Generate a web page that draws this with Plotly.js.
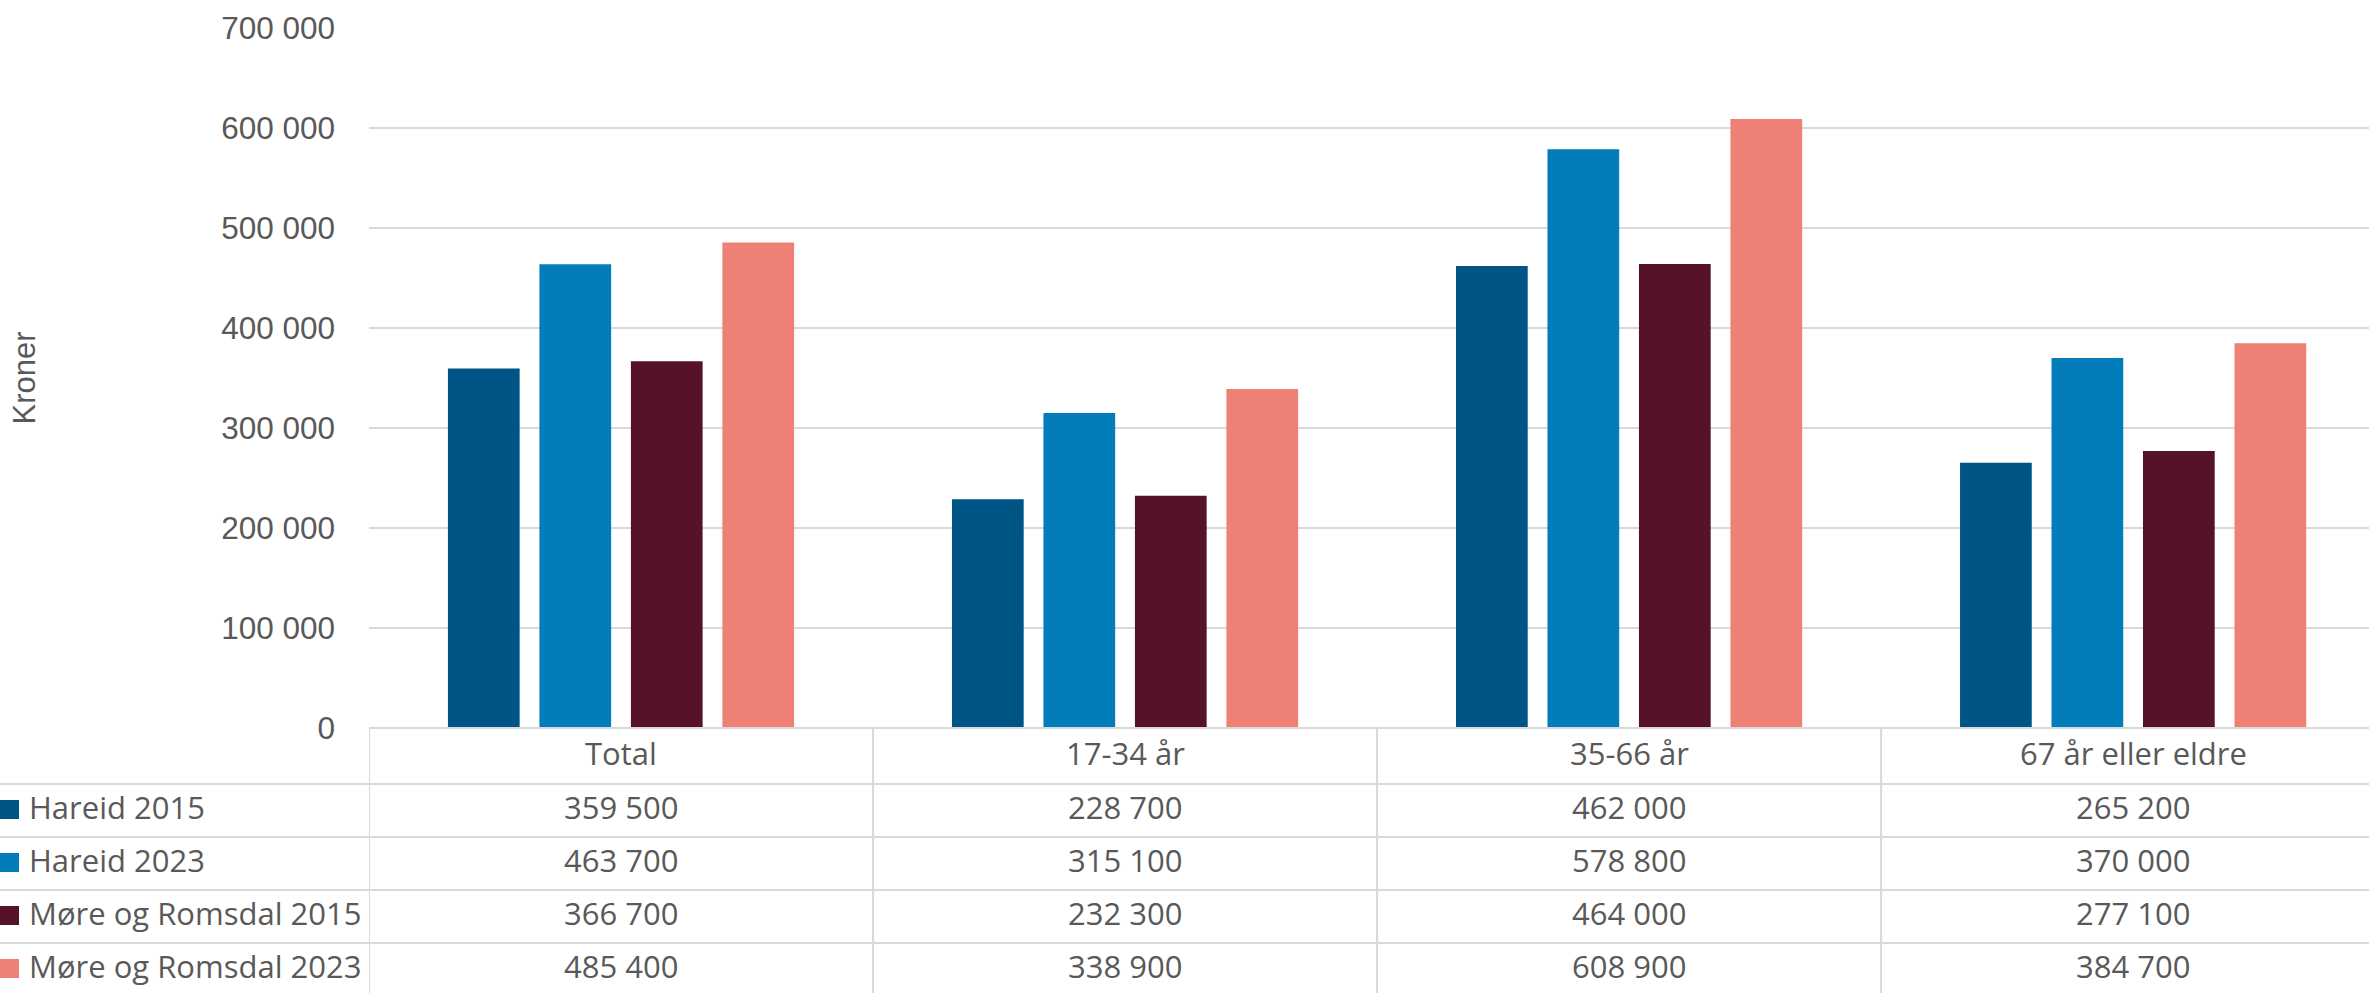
<!DOCTYPE html>
<html><head><meta charset="utf-8">
<script src="https://cdn.plot.ly/plotly-3.0.1.min.js"></script>
<style>html,body{margin:0;padding:0;background:#fff;overflow:hidden}</style>
</head><body><div id="chart" style="width:2369px;height:993px"></div>
<script>
// ---- data ----
const categories = ['Total', '17-34 år', '35-66 år', '67 år eller eldre'];
const seriesNames = ['Hareid 2015', 'Hareid 2023', 'Møre og Romsdal 2015', 'Møre og Romsdal 2023'];
const hareid2015 = [359500, 228700, 462000, 265200];
const hareid2023 = [463700, 315100, 578800, 370000];
const moreRomsdal2015 = [366700, 232300, 464000, 277100];
const moreRomsdal2023 = [485400, 338900, 608900, 384700];
const yTicks = [0, 100000, 200000, 300000, 400000, 500000, 600000, 700000];
const yAxisTitle = 'Kroner';

// ---- style ----
const colors = ['#005587', '#027dba', '#561226', '#ef8075'];
const series = [hareid2015, hareid2023, moreRomsdal2015, moreRomsdal2023];
const W = 2369, H = 993, ML = 369, MT = 28, MB = 265;
const plotW = W - ML, plotH = H - MT - MB;
const gridColor = '#d9d9d9', textColor = '#595959';
const tableFont = {family: 'Open Sans, sans-serif', size: 31, color: textColor};
const py2paper = py => (H - MB - py) / plotH;
const px2paper = px => (px - ML) / plotW;

function fmt(v) {
  return String(v).replace(/\B(?=(\d{3})+(?!\d))/g, ' ');
}

const traces = series.map((vals, i) => ({
  type: 'bar', x: categories, y: vals, name: seriesNames[i],
  marker: {color: colors[i]}, hoverinfo: 'skip'
}));

// table geometry (pixel rows)
const headerCenter = 753;
const rowCenters = [807, 860, 913, 966];
const rowLines = [784, 837, 890, 943];

const shapes = [];
shapes.push({type: 'line', xref: 'paper', yref: 'paper', x0: 0, x1: 1, y0: 0, y1: 0,
  line: {color: gridColor, width: 2}, layer: 'above'});
rowLines.forEach(py => shapes.push({type: 'line', xref: 'paper', yref: 'paper',
  x0: px2paper(0), x1: 1, y0: py2paper(py), y1: py2paper(py), line: {color: gridColor, width: 2}}));
[-0.5, 0.5, 1.5, 2.5].forEach(xv => shapes.push({type: 'line', xref: 'x', yref: 'paper',
  x0: xv, x1: xv, y0: 0, y1: py2paper(H), line: {color: gridColor, width: 2}}));
seriesNames.forEach((n, i) => shapes.push({type: 'rect', xref: 'paper', yref: 'paper',
  x0: px2paper(0), x1: px2paper(19), y0: py2paper(rowCenters[i] + 12), y1: py2paper(rowCenters[i] - 7),
  fillcolor: colors[i], line: {width: 0}}));

const annotations = [];
categories.forEach((c, j) => {
  annotations.push({xref: 'x', yref: 'paper', x: c, y: py2paper(headerCenter), text: c,
    showarrow: false, xanchor: 'center', yanchor: 'middle', font: tableFont});
  series.forEach((vals, i) => annotations.push({xref: 'x', yref: 'paper', x: c, y: py2paper(rowCenters[i]),
    text: fmt(vals[j]), showarrow: false, xanchor: 'center', yanchor: 'middle', font: tableFont}));
});
seriesNames.forEach((n, i) => annotations.push({xref: 'paper', yref: 'paper', x: px2paper(27),
  y: py2paper(rowCenters[i]), text: n, showarrow: false, xanchor: 'left', yanchor: 'middle', font: tableFont}));

const layout = {
  width: W, height: H,
  margin: {l: ML, r: 0, t: MT, b: MB, pad: 0},
  paper_bgcolor: '#ffffff', plot_bgcolor: '#ffffff',
  barmode: 'group', bargap: 0.274, bargroupgap: 0.216,
  showlegend: false,
  separators: ', ',
  xaxis: {type: 'category', range: [-0.5, 3.468], showticklabels: false, showgrid: false,
    zeroline: false, showline: false, fixedrange: true},
  yaxis: {range: [0, 700000], tickvals: yTicks, tickformat: ',d', showgrid: true,
    gridcolor: gridColor, gridwidth: 2, zeroline: false, showline: false, ticks: '',
    ticklabelstandoff: 33, automargin: false,
    tickfont: {family: 'Liberation Sans, Arial, sans-serif', size: 31.5, color: textColor},
    title: {text: yAxisTitle, standoff: 176,
      font: {family: 'Liberation Sans, Arial, sans-serif', size: 31, color: textColor}}},
  shapes: shapes, annotations: annotations
};

Plotly.newPlot('chart', traces, layout, {staticPlot: true, displayModeBar: false});
</script>
</body></html>
